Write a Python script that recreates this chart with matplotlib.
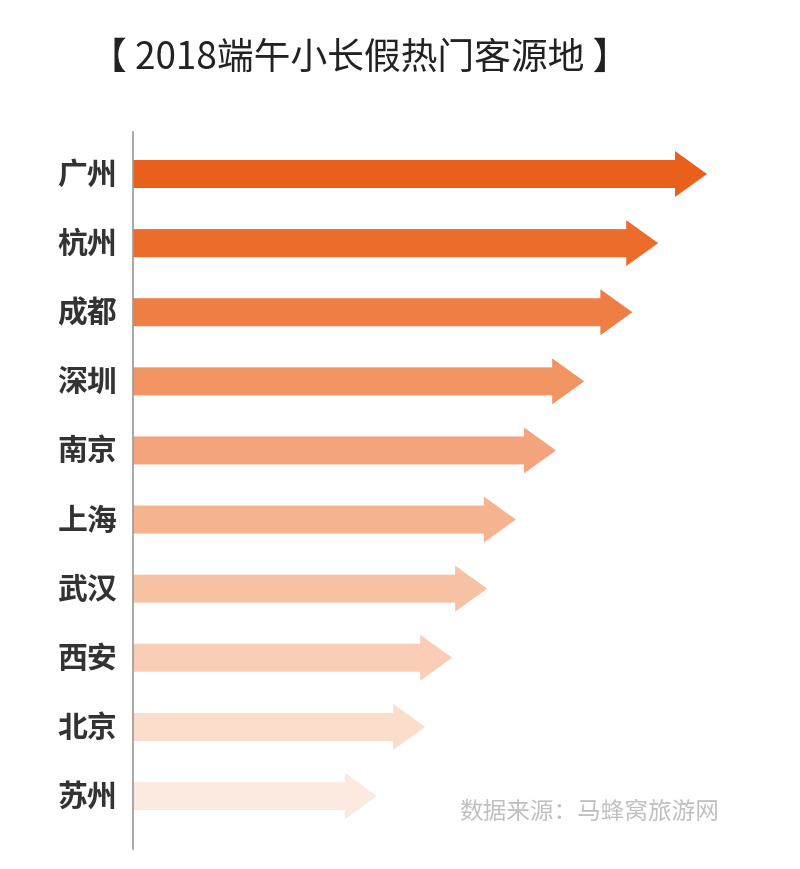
import matplotlib.pyplot as plt
from matplotlib.patches import FancyArrow

plt.rcParams['font.family'] = ['Noto Sans CJK SC', 'DejaVu Sans']

cities = ["广州", "杭州", "成都", "深圳", "南京", "上海", "武汉", "西安", "北京", "苏州"]
values = [100, 91.5, 87, 78.6, 73.7, 66.7, 61.7, 55.6, 50.9, 42.5]
colors = ["#E8601C", "#EC6C2B", "#EF7E45", "#F19462", "#F3A47C", "#F5B38F",
          "#F7C1A4", "#F9CDB6", "#FBDDCC", "#FCEAE0"]

fig = plt.figure(figsize=(8, 8.7), dpi=100)
# axes: left edge at the vertical line (x=133px), from y=133px to 850px
ax = fig.add_axes([133 / 800, 1 - 850 / 870, 1 - 133 / 800, (850 - 133) / 870])

px_y = 69.1  # pixels per category
ax.set_ylim(9 + 53 / px_y, -42 / px_y)
ax.set_xlim(0, 667 / 574 * 100)

shaft = 28 / px_y
head_w = 46 / px_y
head_l = 32 / 574 * 100

for i, (v, c) in enumerate(zip(values, colors)):
    ar = FancyArrow(0, i, v, 0, width=shaft, head_width=head_w, head_length=head_l,
                    length_includes_head=True, color=c, linewidth=0)
    ax.add_patch(ar)
    ax.text(-16 / 574 * 100, i, cities[i], ha="right", va="center", fontsize=21.5,
            fontweight="bold", color="#333333", clip_on=False)

for s in ["top", "right", "bottom"]:
    ax.spines[s].set_visible(False)
ax.spines["left"].set_color("#9a9a9a")
ax.spines["left"].set_linewidth(1.2)
ax.set_xticks([])
ax.set_yticks([])

fig.text(360 / 800, 1 - 58 / 870, "【 2018端午小长假热门客源地 】", ha="center", va="center",
         fontsize=26.5, fontweight="light", color="#222222")
fig.text(589 / 800, 1 - 812 / 870, "数据来源：马蜂窝旅游网", ha="center", va="center",
         fontsize=17, color="#c0c0c0")

fig.savefig("out.png", dpi=100)
